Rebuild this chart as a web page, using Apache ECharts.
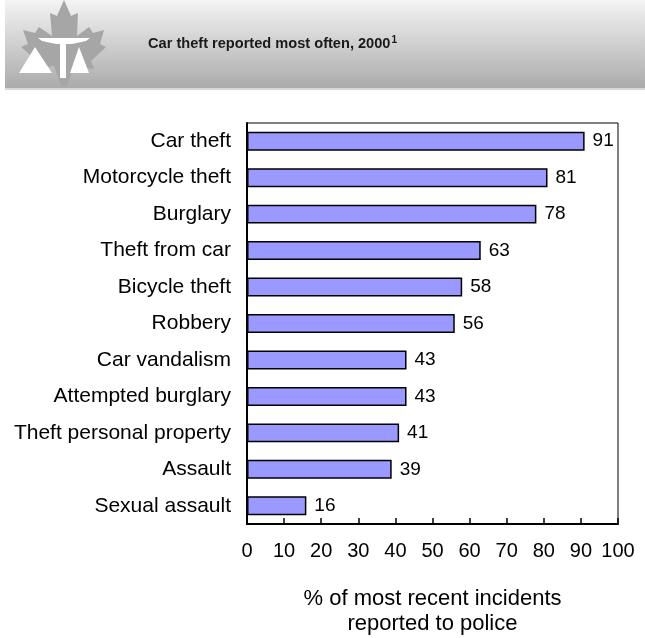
<!DOCTYPE html>
<html><head><meta charset="utf-8">
<script src="https://cdn.jsdelivr.net/npm/echarts@6/dist/echarts.min.js"></script>
<style>html,body{margin:0;padding:0;background:#fff}#c{width:645px;height:638px}</style>
</head><body><div id="c"></div>
<script>
const categories = ["Car theft","Motorcycle theft","Burglary","Theft from car","Bicycle theft","Robbery","Car vandalism","Attempted burglary","Theft personal property","Assault","Sexual assault"];
const values = [91,81,78,63,58,56,43,43,41,39,16];
const xTicks = [0,10,20,30,40,50,60,70,80,90,100];

const chart = echarts.init(document.getElementById('c'), null, {renderer:'canvas'});
const FONT = 'Liberation Sans, Arial, sans-serif';
const leaf = [[64,0],[57,16],[50,13],[52,36],[39,27],[35,33],[23,30],[28,44],[21,47],[37,61],[34,69],[54,66],[61,86],[67,86],[74,66],[94,69],[91,61],[106,47],[100,44],[104,30],[93,33],[89,27],[77,36],[78,13],[71,16]];
chart.setOption({
  animation:false,
  graphic:[
    {type:'rect',shape:{x:5,y:0,width:640,height:88},style:{fill:new echarts.graphic.LinearGradient(0,0,0,1,[{offset:0,color:'#f4f4f4'},{offset:1,color:'#ababab'}])},z:0},
    {type:'rect',shape:{x:5,y:88,width:640,height:2},style:{fill:'#d8d8d8'},z:0},
    {type:'polygon',shape:{points:leaf},style:{fill:'#a6a6a6'},z:1},
    {type:'polygon',shape:{points:[[38,38],[90,38],[86,41],[72,44],[56,44],[42,41]]},style:{fill:'#fff'},z:2},
    {type:'rect',shape:{x:60,y:43,width:6,height:35},style:{fill:'#fff'},z:2},
    {type:'polygon',shape:{points:[[19,73],[35,47],[52,73]]},style:{fill:'#fff'},z:2},
    {type:'polygon',shape:{points:[[70,73],[79,47],[89,73]]},style:{fill:'#fff'},z:2},
    {type:'text',x:148,y:44,style:{rich:{a:{fontFamily:FONT,fontSize:14.6,fontWeight:'bold',fill:'#1a1a1a'},s:{fontFamily:FONT,fontSize:10,fontWeight:'bold',fill:'#1a1a1a',verticalAlign:'top',padding:[0,0,8,1]}},text:'{a|Car theft reported most often, 2000}{s|1}',verticalAlign:'middle'},z:3}
  ],
  grid:{left:247,right:27,top:123,bottom:114,outerBoundsMode:'none',containLabel:false,show:true,borderColor:'#000',borderWidth:1,backgroundColor:'transparent'},
  xAxis:{type:'value',min:0,max:100,interval:10,
    axisLine:{show:true,lineStyle:{color:'#000',width:2}},
    axisTick:{show:true,inside:true,length:6,lineStyle:{color:'#000',width:1.5}},
    splitLine:{show:false},
    axisLabel:{fontFamily:FONT,fontSize:20,color:'#000',margin:17,formatter:v=>xTicks.includes(v)?String(v):''},
    name:'% of most recent incidents\nreported to police',nameLocation:'middle',nameGap:62,
    nameTextStyle:{fontFamily:FONT,fontSize:22,color:'#000',lineHeight:25}
  },
  yAxis:{type:'category',data:categories,inverse:true,
    axisLine:{show:true,lineStyle:{color:'#000',width:2}},
    axisTick:{show:false},
    axisLabel:{fontFamily:FONT,fontSize:21,color:'#000',margin:16}
  },
  series:[{type:'bar',data:values,barWidth:'52%',
    itemStyle:{color:'#9999ff',borderColor:'#000',borderWidth:1.5},
    label:{show:true,position:'right',distance:8,fontFamily:FONT,fontSize:19,color:'#000'}
  }]
});
</script></body></html>
